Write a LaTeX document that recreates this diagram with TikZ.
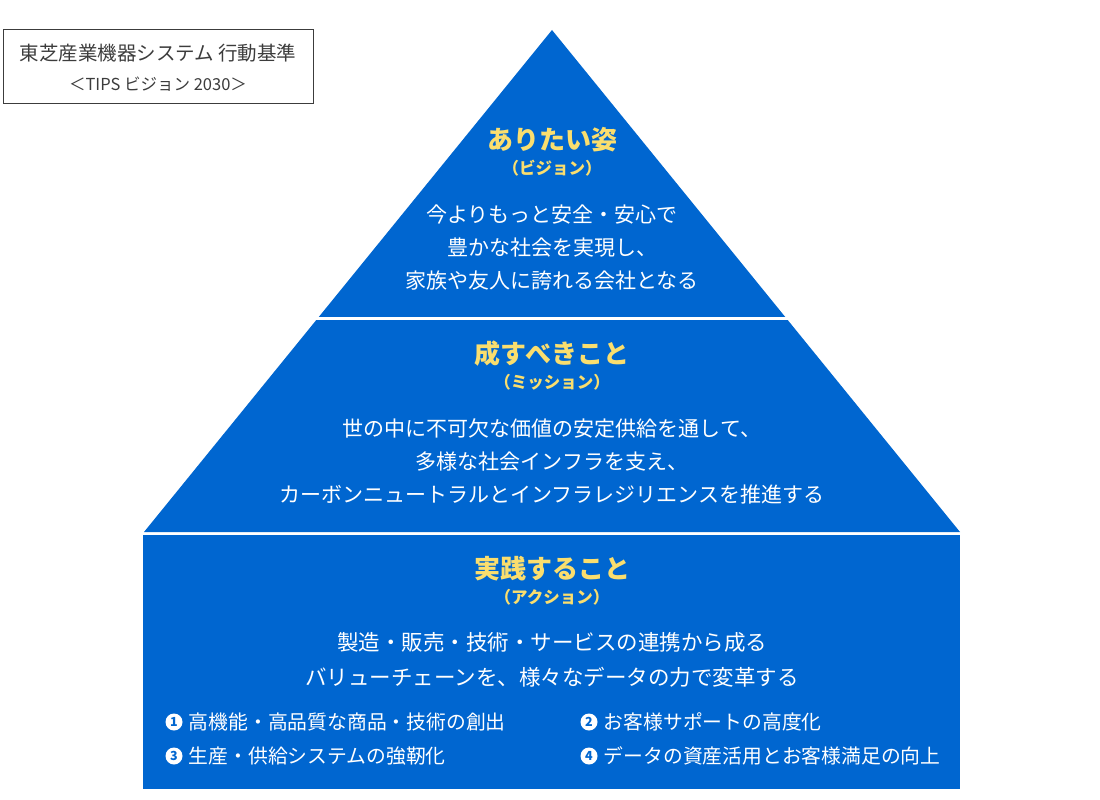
\documentclass[tikz,border=0pt]{standalone}
\usepackage{fontspec}
\setmainfont{Noto Sans CJK JP}
\usetikzlibrary{calc,positioning}
\definecolor{pyrblue}{RGB}{0,102,208}
\definecolor{pyryellow}{RGB}{250,222,110}
\definecolor{boxgray}{RGB}{60,60,60}
\tikzset{
  tiertitle/.style={text=pyryellow,font=\fontsize{26}{30}\selectfont\bfseries},
  tiersub/.style={text=pyryellow,font=\fontsize{16.5}{20}\selectfont\bfseries},
  tierbody/.style={text=white,align=center,font=\fontsize{21}{33}\selectfont},
  numdot/.style={circle,fill=white,text=pyrblue,inner sep=0pt,minimum size=17pt,font=\fontsize{12.5}{12.5}\selectfont\bfseries},
  itemtext/.style={text=white,inner sep=0pt,font=\fontsize{19.8}{22}\selectfont},
}

\begin{document}
\begin{tikzpicture}[x=1pt,y=-1pt]
    \useasboundingbox (0,0) rectangle (1100,800);
    % pyramid outline
    \coordinate (apex) at (552,30);
    \coordinate (lb) at (144,532);
    \coordinate (rb) at (960,532);
    \fill[pyrblue] (apex) -- ($(apex)!0.5717!(lb)$) -- ($(apex)!0.5717!(rb)$) -- cycle;
    \fill[pyrblue] ($(apex)!0.5777!(lb)$) -- (lb) -- (rb) -- ($(apex)!0.5777!(rb)$) -- cycle;
    \fill[pyrblue] (143,534.5) rectangle (960,789);
    % title box
    \draw[boxgray,line width=1pt] (3,30) rectangle (313,103);
    \node[text=boxgray,font=\fontsize{19.5}{21}\selectfont] (boxhead) at (158,53) {東芝産業機器システム 行動基準};
    \node[text=boxgray,font=\fontsize{16.5}{18}\selectfont] (boxsub) at (158,84) {＜TIPS ビジョン 2030＞};
    % vision
    \node[tiertitle] (vtitle) at (552,140) {ありたい姿};
    \node[tiersub] (vsub) at (552,168) {（ビジョン）};
    \node[tierbody] (vbody) at (552,248) {今よりもっと安全・安心で\\豊かな社会を実現し、\\家族や友人に誇れる会社となる};
    % mission
    \node[tiertitle] (mtitle) at (552,354) {成すべきこと};
    \node[tiersub] (msub) at (552,382) {（ミッション）};
    \node[tierbody] (mbody) at (552,461) {世の中に不可欠な価値の安定供給を通して、\\多様な社会インフラを支え、\\カーボンニュートラルとインフラレジリエンスを推進する};
    % action
    \node[tiertitle] (atitle) at (552,569) {実践すること};
    \node[tiersub] (asub) at (552,597) {（アクション）};
    \node[tierbody,font=\fontsize{21.5}{35}\selectfont] (abody) at (552,659.5) {製造・販売・技術・サービスの連携から成る\\バリューチェーンを、様々なデータの力で変革する};
    \node[numdot] (n1) at (174,722) {1};
    \node[itemtext,right=6pt of n1] (i1) {高機能・高品質な商品・技術の創出};
    \node[numdot] (n2) at (589,722) {2};
    \node[itemtext,right=6pt of n2] (i2) {お客様サポートの高度化};
    \node[numdot] (n3) at (174,756) {3};
    \node[itemtext,right=6pt of n3] (i3) {生産・供給システムの強靭化};
    \node[numdot] (n4) at (589,756) {4};
    \node[itemtext,right=6pt of n4] (i4) {データの資産活用とお客様満足の向上};
\end{tikzpicture}
\end{document}
